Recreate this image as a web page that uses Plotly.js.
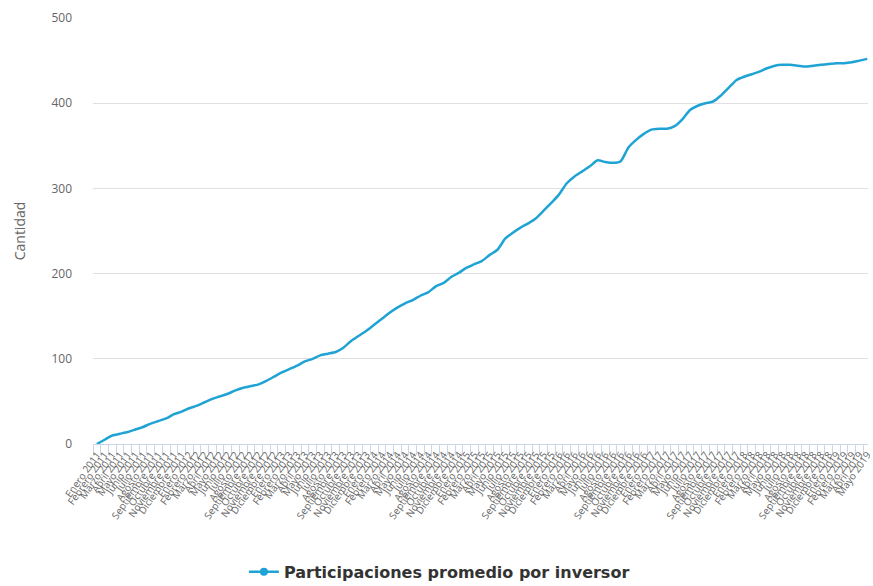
<!DOCTYPE html>
<html>
<head>
<meta charset="utf-8">
<script src="https://cdn.plot.ly/plotly-3.0.1.min.js"></script>
<style>html,body{margin:0;padding:0;background:#fff;}#chart{width:873px;height:586px;}</style>
</head>
<body>
<div id="chart"></div>
<script>
const meses = ["Enero","Febrero","Marzo","Abril","Mayo","Junio","Julio","Agosto","Septiembre","Octubre","Noviembre","Diciembre"];
const startYear = 2011;
const nPoints = 101;
const categories = [];
for (let i = 0; i < nPoints; i++) {
  categories.push(meses[i % 12] + " " + (startYear + Math.floor(i / 12)));
}
const participaciones = [
  0, 5, 10, 12, 14, 17, 20, 24, 27, 30,
  35, 38, 42, 45, 49, 53, 56, 59, 63, 66,
  68, 70, 74, 79, 84, 88, 92, 97, 100, 104,
  106, 108, 113, 121, 127, 133, 140, 147, 154, 160,
  165, 169, 174, 178, 185, 189, 196, 201, 207, 211,
  215, 222, 228, 241, 248, 254, 259, 265, 274, 283,
  293, 306, 314, 320, 326, 333, 331, 330, 332, 348,
  357, 364, 369, 370, 370, 373, 381, 392, 397, 400,
  402, 409, 418, 427, 431, 434, 437, 441, 444, 445,
  445, 444, 443, 444, 445, 446, 447, 447, 448, 450,
  452
];
const yTicks = [0, 100, 200, 300, 400, 500];
const serieNombre = "Participaciones promedio por inversor";
const color = "#1fa3d5";

const trace = {
  x: categories,
  y: participaciones,
  type: "scatter",
  mode: "lines",
  name: serieNombre,
  showlegend: false,
  line: {color: color, width: 2.5, shape: "spline", smoothing: 0.6}
};
const legendTrace = {
  x: [null], y: [null],
  type: "scatter",
  mode: "lines+markers",
  name: serieNombre,
  showlegend: true,
  line: {color: color, width: 2.5},
  marker: {color: color, size: 8, symbol: "circle"}
};

const layout = {
  width: 873, height: 586,
  margin: {l: 93, r: 5, t: 18, b: 142, autoexpand: false},
  paper_bgcolor: "#ffffff",
  plot_bgcolor: "#ffffff",
  font: {family: "Open Sans, DejaVu Sans, sans-serif", color: "#666666"},
  showlegend: true,
  legend: {
    orientation: "h", x: 0.447, y: -0.30, xanchor: "center", yanchor: "middle",
    itemwidth: 30,
    font: {size: 16, color: "#333333", family: "DejaVu Sans, sans-serif", weight: "bold"}
  },
  xaxis: {
    type: "category",
    range: [-0.5, 100.1],
    automargin: false,
    tickmode: "array",
    tickvals: categories,
    ticktext: categories,
    tickangle: -55,
    tickfont: {size: 10, color: "#666666"},
    tickson: "boundaries",
    ticks: "outside",
    ticklen: 10,
    tickcolor: "#ccd6eb",
    showline: true,
    linecolor: "#ccd6eb",
    linewidth: 1,
    showgrid: false,
    zeroline: false
  },
  yaxis: {
    range: [0, 500],
    automargin: false,
    tickvals: yTicks,
    ticktext: yTicks.map(String),
    tickfont: {size: 12, color: "#666666"},
    ticks: "",
    ticklabelstandoff: 20,
    showgrid: true,
    gridcolor: "#e0e0e0",
    gridwidth: 1,
    zeroline: false,
    showline: false,
    title: {text: "Cantidad", font: {size: 14, color: "#666666"}, standoff: 22}
  }
};

Plotly.newPlot("chart", [trace, legendTrace], layout, {displayModeBar: false, staticPlot: true});
</script>
</body>
</html>
